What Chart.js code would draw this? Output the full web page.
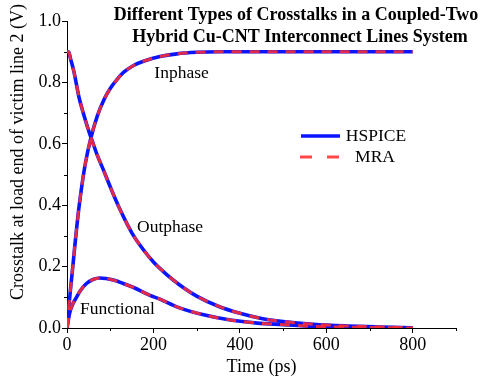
<!DOCTYPE html>
<html>
<head>
<meta charset="utf-8">
<script src="https://cdn.jsdelivr.net/npm/chart.js@4/dist/chart.umd.min.js"></script>
<style>
html,body{margin:0;padding:0;background:#fff;}
#wrap{width:480px;height:383px;position:relative;}
</style>
</head>
<body>
<div id="wrap"><canvas id="c" width="480" height="383"></canvas></div>
<script>
// ---- data ----
const chartTitle = ["Different Types of Crosstalks in a Coupled-Two", "Hybrid Cu-CNT Interconnect Lines System"];
const xTitle = "Time (ps)";
const yTitle = "Crosstalk at load end of victim line 2 (V)";
const seriesNames = ["HSPICE", "MRA"];
const curveNames = ["Inphase", "Outphase", "Functional"];

const inphaseT = [0, 4, 8, 12, 19, 27, 35, 43, 54, 70, 86, 100, 115, 132, 155, 177, 215, 254, 300, 350, 400, 500, 600, 700, 800];
const inphaseV = [0, 0.065, 0.125, 0.18, 0.28, 0.385, 0.47, 0.54, 0.612, 0.69, 0.745, 0.78, 0.808, 0.834, 0.856, 0.869, 0.884, 0.893, 0.898, 0.9, 0.9, 0.9, 0.9, 0.9, 0.9];

const outphaseT = [0, 4, 8, 16, 28, 39, 51, 59, 70, 86, 100, 123, 150, 175, 200, 230, 260, 300, 350, 400, 450, 500, 570, 650, 720, 800];
const outphaseV = [0.9, 0.899, 0.878, 0.835, 0.75, 0.694, 0.639, 0.607, 0.563, 0.509, 0.46, 0.385, 0.31, 0.258, 0.215, 0.175, 0.141, 0.104, 0.071, 0.048, 0.031, 0.021, 0.012, 0.0065, 0.0035, 0.001];

const functionalT = [0, 6, 14, 22, 30, 45, 60, 76, 90, 107, 130, 154, 192, 215, 254, 316, 378, 440, 500, 571, 650, 720, 800];
const functionalV = [0, 0.048, 0.08, 0.10, 0.12, 0.145, 0.158, 0.163, 0.161, 0.156, 0.145, 0.132, 0.106, 0.094, 0.069, 0.043, 0.026, 0.016, 0.011, 0.005, 0.003, 0.0015, 0];

const xTicksMajor = [0, 200, 400, 600, 800];
const yTicksMajor = [0.0, 0.2, 0.4, 0.6, 0.8, 1.0];

// ---- build ----
const toPts = (t, v) => t.map((x, i) => ({x: x, y: v[i]}));
const curves = [[inphaseT, inphaseV], [outphaseT, outphaseV], [functionalT, functionalV]];
const BLUE = '#0a14ff';
const RED = 'rgba(255,45,45,0.88)';
const datasets = [];
curves.forEach((c, i) => {
  datasets.push({label: seriesNames[0] + ' ' + curveNames[i], data: toPts(c[0], c[1]), borderColor: BLUE, borderWidth: 3.6, pointRadius: 0, cubicInterpolationMode: 'monotone', order: 2});
});
curves.forEach((c, i) => {
  datasets.push({label: seriesNames[1] + ' ' + curveNames[i], data: toPts(c[0], c[1]), borderColor: RED, borderWidth: 3, borderDash: [10, 8], pointRadius: 0, cubicInterpolationMode: 'monotone', order: 1});
});

const SERIF = "'Liberation Serif', 'Times New Roman', serif";

const decor = {
  id: 'decor',
  afterDraw(chart) {
    const ctx = chart.ctx;
    const xs = chart.scales.x, ys = chart.scales.y;
    ctx.save();
    // minor ticks
    ctx.strokeStyle = '#000'; ctx.lineWidth = 1;
    for (let v = 100; v <= 900; v += 200) {
      const px = Math.round(xs.getPixelForValue(v)) + 0.5;
      ctx.beginPath(); ctx.moveTo(px, ys.bottom); ctx.lineTo(px, ys.bottom + 3); ctx.stroke();
    }
    for (let k = 1; k <= 9; k += 2) {
      const py = Math.round(ys.getPixelForValue(k / 10)) + 0.5;
      ctx.beginPath(); ctx.moveTo(xs.left, py); ctx.lineTo(xs.left - 3, py); ctx.stroke();
    }
    // y title
    ctx.fillStyle = '#000';
    ctx.font = '18px ' + SERIF;
    ctx.textAlign = 'center'; ctx.textBaseline = 'middle';
    ctx.save();
    ctx.translate(18, 152);
    ctx.rotate(-Math.PI / 2);
    ctx.fillText(yTitle, 0, 0);
    ctx.restore();
    // chart title
    ctx.font = 'bold 18px ' + SERIF;
    ctx.fillText(chartTitle[0], 296, 15);
    ctx.fillText(chartTitle[1], 300, 37);
    // curve labels
    ctx.font = '17.5px ' + SERIF;
    ctx.textAlign = 'left';
    ctx.fillText(curveNames[0], xs.getPixelForValue(202), ys.getPixelForValue(0.83));
    ctx.fillText(curveNames[1], xs.getPixelForValue(162), ys.getPixelForValue(0.329));
    ctx.fillText(curveNames[2], xs.getPixelForValue(30), ys.getPixelForValue(0.062));
    // legend
    ctx.lineWidth = 3.6; ctx.strokeStyle = BLUE;
    ctx.beginPath(); ctx.moveTo(301, 136); ctx.lineTo(340, 136); ctx.stroke();
    ctx.lineWidth = 3; ctx.strokeStyle = RED; ctx.setLineDash([12, 15]);
    ctx.beginPath(); ctx.moveTo(300, 157); ctx.lineTo(340, 157); ctx.stroke();
    ctx.setLineDash([]);
    ctx.textAlign = 'center';
    ctx.fillText(seriesNames[0], 376, 136);
    ctx.fillText(seriesNames[1], 375, 157);
    ctx.restore();
  }
};

new Chart(document.getElementById('c'), {
  type: 'line',
  data: {datasets: datasets},
  options: {
    responsive: false,
    animation: false,
    events: [],
    layout: {padding: {top: 21, right: 24, left: 0, bottom: 0}},
    plugins: {legend: {display: false}, tooltip: {enabled: false}, title: {display: false}},
    scales: {
      x: {
        type: 'linear', min: 0, max: 900,
        afterFit: s => { s.height = 55; },
        border: {display: true, color: '#000', width: 1},
        grid: {display: true, drawOnChartArea: false, drawTicks: true, tickLength: 5,
               tickColor: c => (xTicksMajor.includes(c.tick.value) ? '#000' : 'rgba(0,0,0,0)')},
        ticks: {stepSize: 100, autoSkip: false, maxRotation: 0, padding: 1, color: '#000',
                font: {family: SERIF, size: 18},
                callback: v => (xTicksMajor.includes(v) ? String(v) : '')},
        title: {display: true, text: xTitle, color: '#000', font: {family: SERIF, size: 18}, padding: {top: 0, bottom: 5}}
      },
      y: {
        type: 'linear', min: 0, max: 1,
        afterFit: s => { s.width = 67; },
        border: {display: true, color: '#000', width: 1},
        grid: {display: true, drawOnChartArea: false, drawTicks: true, tickLength: 5,
               tickColor: c => (Math.round(c.tick.value * 10) % 2 === 0 ? '#000' : 'rgba(0,0,0,0)')},
        ticks: {stepSize: 0.1, autoSkip: false, padding: 1, color: '#000',
                font: {family: SERIF, size: 18},
                callback: v => (yTicksMajor.some(m => Math.abs(m - v) < 1e-6) ? v.toFixed(1) : '')}
      }
    }
  },
  plugins: [decor]
});
</script>
</body>
</html>
